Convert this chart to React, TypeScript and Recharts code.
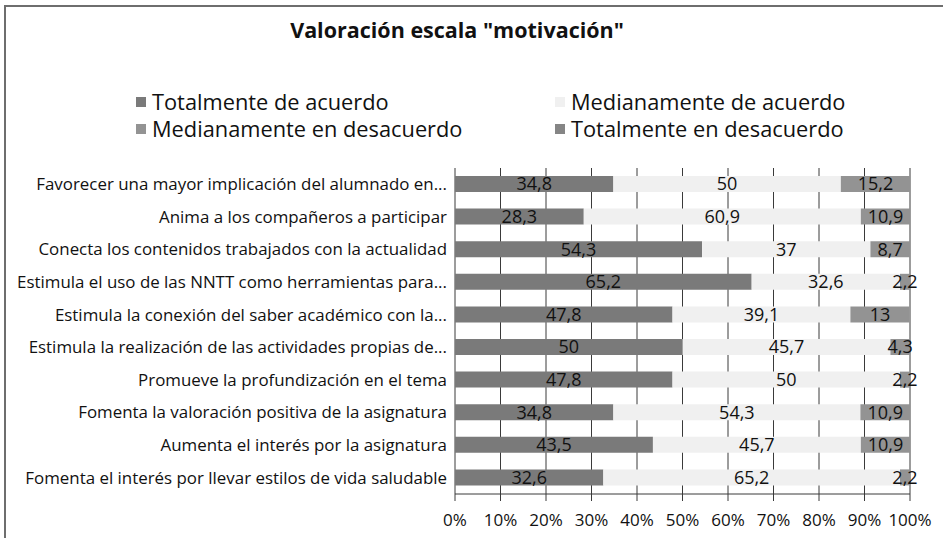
import { BarChart, Bar, XAxis, YAxis, CartesianGrid, Legend, LabelList } from "recharts";

const categories = [
  "Favorecer una mayor implicación del alumnado en...",
  "Anima a los compañeros a participar",
  "Conecta los contenidos trabajados con la actualidad",
  "Estimula el uso de las NNTT como herramientas para...",
  "Estimula la conexión del saber académico con la...",
  "Estimula la realización de las actividades propias de...",
  "Promueve la profundización en el tema",
  "Fomenta la valoración positiva de la asignatura",
  "Aumenta el interés por la asignatura",
  "Fomenta el interés por llevar estilos de vida saludable",
];

const totalmenteAcuerdo = [34.8, 28.3, 54.3, 65.2, 47.8, 50, 47.8, 34.8, 43.5, 32.6];
const medianamenteAcuerdo = [50, 60.9, 37, 32.6, 39.1, 45.7, 50, 54.3, 45.7, 65.2];
const medianamenteDesacuerdo = [15.2, 10.9, 8.7, 2.2, 13, 4.3, 2.2, 10.9, 10.9, 2.2];
const totalmenteDesacuerdo = [0, 0, 0, 0, 0, 0, 0, 0, 0, 0];

const xTicks = [0, 10, 20, 30, 40, 50, 60, 70, 80, 90, 100];

const series = [
  { key: "ta", name: "Totalmente de acuerdo", color: "#7a7a7a" },
  { key: "ma", name: "Medianamente de acuerdo", color: "#f0f0f0" },
  { key: "md", name: "Medianamente en desacuerdo", color: "#939393" },
  { key: "td", name: "Totalmente en desacuerdo", color: "#858585" },
];

const data = categories.map((name, i) => ({
  name,
  ta: totalmenteAcuerdo[i],
  ma: medianamenteAcuerdo[i],
  md: medianamenteDesacuerdo[i],
  td: totalmenteDesacuerdo[i],
}));

const FONT = "'Open Sans', sans-serif";

const fmt = (v: any) => (v ? String(v).replace(".", ",") : "");

function LegendBox() {
  // two columns, Excel style
  const cols = [136, 555];
  return (
    <div style={{ position: "relative", width: 943, height: 80, fontFamily: FONT, fontSize: 21.8, color: "#111" }}>
      {series.map((s, i) => (
        <div
          key={s.key}
          style={{
            position: "absolute",
            left: cols[i % 2],
            top: Math.floor(i / 2) * 27,
            height: 27,
            lineHeight: "27px",
            display: "flex",
            alignItems: "center",
            whiteSpace: "nowrap",
          }}
        >
          <span style={{ display: "inline-block", width: 10, height: 10, background: s.color, marginRight: 6 }} />
          {s.name}
        </div>
      ))}
    </div>
  );
}

export default function App() {
  return (
    <div style={{ position: "absolute", left: 0, top: 0, width: 943, height: 538, overflow: "hidden", background: "#fff", fontFamily: FONT }}>
      <div style={{ position: "absolute", left: 4, top: 5, width: 980, height: 600, border: "2px solid #6e6e6e" }} />
      <div style={{ position: "absolute", left: 0, top: 15, width: 914, textAlign: "center", fontSize: 21.5, fontWeight: 700, color: "#111" }}>
        Valoración escala "motivación"
      </div>
      <BarChart
        width={943}
        height={538}
        data={data}
        layout="vertical"
        barSize={16}
        margin={{ top: 88, right: 33, left: 0, bottom: 0 }}
        style={{ position: "absolute", left: 0, top: 0 }}
      >
        <CartesianGrid horizontal={false} vertical stroke="#3a3a3a" />
        <XAxis
          type="number"
          domain={[0, 100]}
          ticks={xTicks}
          allowDataOverflow
          tickFormatter={(v) => `${v}%`}
          height={44}
          stroke="#3a3a3a"
          tickSize={7}
          tickMargin={13}
          tick={{ fill: "#111", fontSize: 17, fontFamily: FONT }}
        />
        <YAxis
          type="category"
          dataKey="name"
          width={455}
          tickLine={false}
          axisLine={false}
          tick={{ fill: "#111", fontSize: 16.9, fontFamily: FONT }}
        />
        <Legend verticalAlign="top" wrapperStyle={{ left: 0, top: 88 }} content={() => <LegendBox />} />
        {series.map((s) => (
          <Bar key={s.key} dataKey={s.key} name={s.name} stackId="a" fill={s.color} isAnimationActive={false}>
            <LabelList dataKey={s.key} position="center" formatter={fmt} fill="#111" fontSize={18} fontFamily={FONT} />
          </Bar>
        ))}
      </BarChart>
    </div>
  );
}
